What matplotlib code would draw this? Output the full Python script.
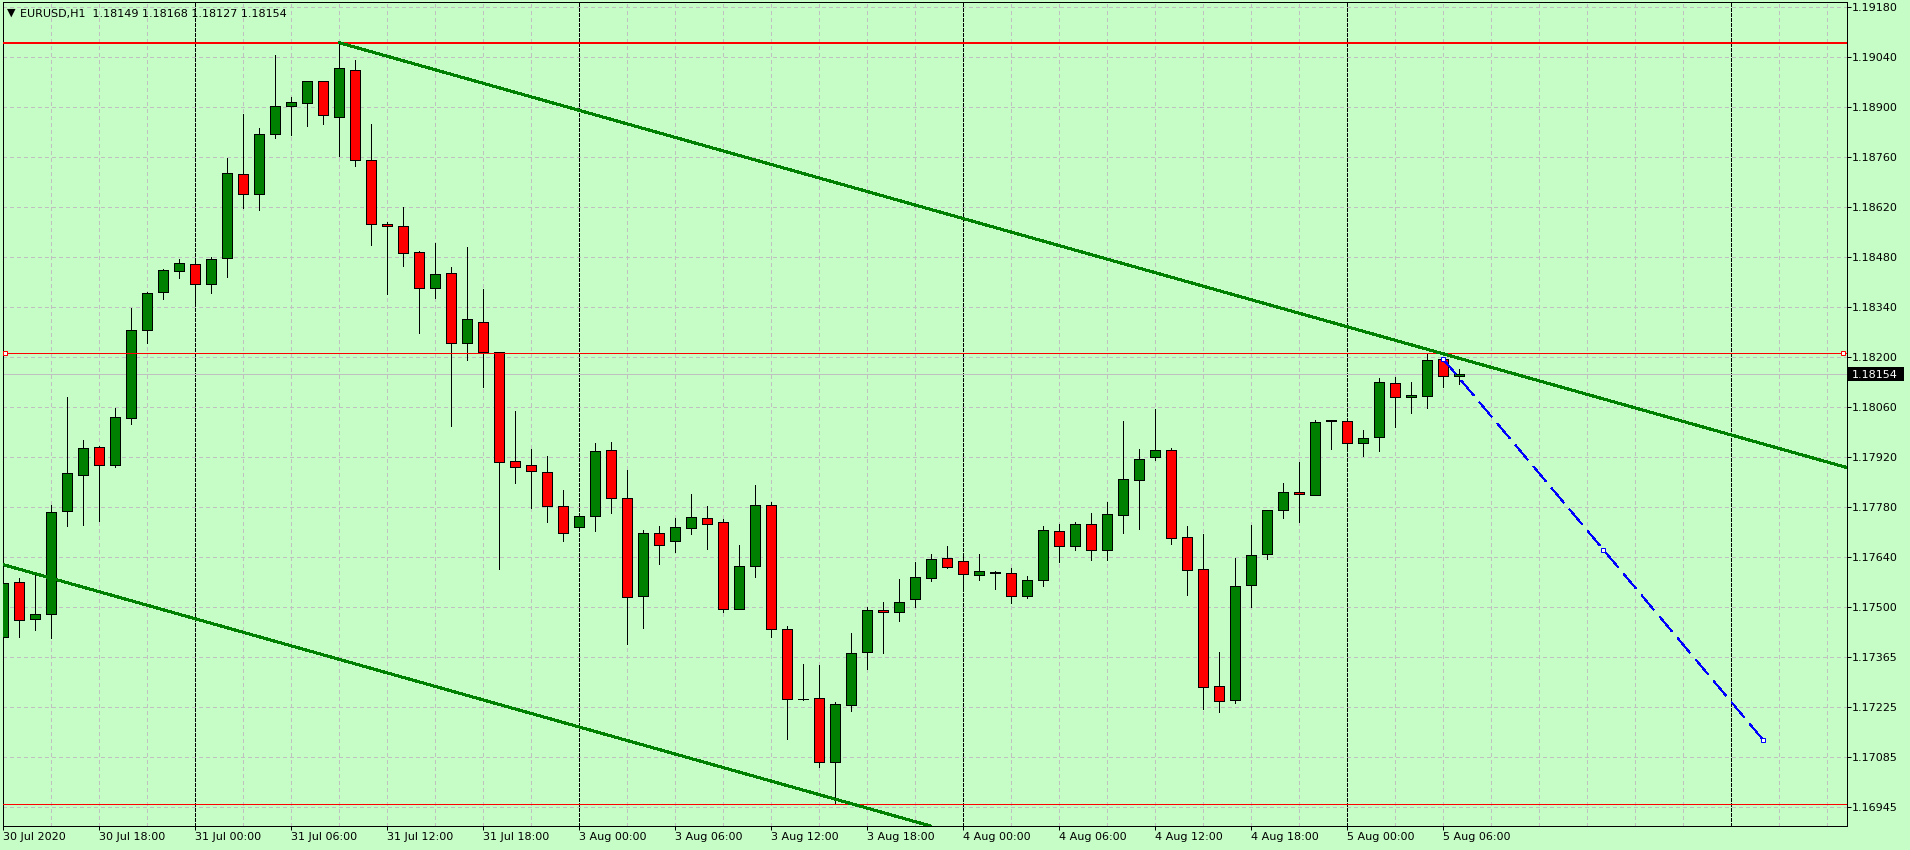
import numpy as np
import pandas as pd
import matplotlib
matplotlib.use('Agg')
import matplotlib.pyplot as plt
import matplotlib.transforms as mtransforms
from matplotlib.patches import Rectangle

# EURUSD H1 candles, 30 Jul 2020 12:00 .. 5 Aug 2020 07:00
symbol = "EURUSD,H1"
opens = [1.17419, 1.17573, 1.17469, 1.17483, 1.17771, 1.17872, 1.17950, 1.17900, 1.18031, 1.18277,
         1.18383, 1.18442, 1.18461, 1.18405, 1.18478, 1.18713, 1.18657, 1.18826, 1.18903, 1.18911,
         1.18972, 1.18872, 1.19003, 1.18752, 1.18573, 1.18567, 1.18495, 1.18394, 1.18436, 1.18241,
         1.18299, 1.18215, 1.17911, 1.17900, 1.17880, 1.17785, 1.17728, 1.17757, 1.17942, 1.17808,
         1.17534, 1.17710, 1.17687, 1.17724, 1.17752, 1.17740, 1.17499, 1.17618, 1.17788, 1.17442,
         1.17248, 1.17249, 1.17072, 1.17229, 1.17379, 1.17495, 1.17489, 1.17525, 1.17584, 1.17640,
         1.17632, 1.17592, 1.17601, 1.17598, 1.17534, 1.17578, 1.17715, 1.17673, 1.17735, 1.17662,
         1.17760, 1.17858, 1.17922, 1.17942, 1.17699, 1.17609, 1.17282, 1.17243, 1.17564, 1.17651,
         1.17774, 1.17824, 1.17816, 1.18024, 1.18023, 1.17961, 1.17978, 1.18129, 1.18090, 1.18092,
         1.18196, 1.18149]
highs = [1.17615, 1.17584, 1.17595, 1.17789, 1.18091, 1.17970, 1.17954, 1.18059, 1.18340, 1.18385,
         1.18447, 1.18476, 1.18468, 1.18481, 1.18759, 1.18880, 1.18842, 1.19046, 1.18928, 1.18973,
         1.18974, 1.19080, 1.19031, 1.18852, 1.18579, 1.18620, 1.18498, 1.18522, 1.18453, 1.18509,
         1.18391, 1.18216, 1.18051, 1.17945, 1.17926, 1.17831, 1.17764, 1.17961, 1.17964, 1.17886,
         1.17718, 1.17729, 1.17752, 1.17819, 1.17785, 1.17749, 1.17676, 1.17844, 1.17796, 1.17450,
         1.17345, 1.17342, 1.17239, 1.17431, 1.17503, 1.17518, 1.17582, 1.17630, 1.17652, 1.17675,
         1.17652, 1.17652, 1.17605, 1.17612, 1.17590, 1.17730, 1.17735, 1.17741, 1.17766, 1.17797,
         1.18024, 1.17945, 1.18057, 1.17947, 1.17729, 1.17707, 1.17377, 1.17640, 1.17732, 1.17774,
         1.17849, 1.17908, 1.18025, 1.18026, 1.18026, 1.17997, 1.18143, 1.18146, 1.18132, 1.18210,
         1.18197, 1.18168]
lows = [1.17305, 1.17421, 1.17440, 1.17418, 1.17731, 1.17734, 1.17745, 1.17896, 1.18016, 1.18242,
        1.18365, 1.18424, 1.18348, 1.18382, 1.18427, 1.18617, 1.18614, 1.18815, 1.18821, 1.18848,
        1.18854, 1.18765, 1.18737, 1.18516, 1.18379, 1.18457, 1.18270, 1.18366, 1.18010, 1.18195,
        1.18117, 1.17611, 1.17851, 1.17779, 1.17742, 1.17689, 1.17716, 1.17717, 1.17767, 1.17400,
        1.17446, 1.17625, 1.17658, 1.17709, 1.17667, 1.17489, 1.17497, 1.17588, 1.17421, 1.17135,
        1.17245, 1.17058, 1.16955, 1.17213, 1.17331, 1.17376, 1.17466, 1.17504, 1.17577, 1.17614,
        1.17561, 1.17579, 1.17555, 1.17515, 1.17530, 1.17563, 1.17630, 1.17664, 1.17636, 1.17636,
        1.17711, 1.17723, 1.17915, 1.17679, 1.17538, 1.17218, 1.17210, 1.17235, 1.17503, 1.17639,
        1.17753, 1.17742, 1.17816, 1.17946, 1.17951, 1.17925, 1.17939, 1.18006, 1.18045, 1.18059,
        1.18118, 1.18127]
closes = [1.17570, 1.17467, 1.17483, 1.17768, 1.17877, 1.17947, 1.17900, 1.18034, 1.18277, 1.18380,
          1.18444, 1.18464, 1.18405, 1.18475, 1.18715, 1.18657, 1.18824, 1.18903, 1.18914, 1.18972,
          1.18877, 1.19009, 1.18752, 1.18573, 1.18567, 1.18492, 1.18394, 1.18433, 1.18241, 1.18308,
          1.18215, 1.17908, 1.17894, 1.17883, 1.17785, 1.17710, 1.17757, 1.17939, 1.17808, 1.17531,
          1.17710, 1.17676, 1.17726, 1.17754, 1.17735, 1.17497, 1.17618, 1.17788, 1.17443, 1.17246,
          1.17246, 1.17070, 1.17232, 1.17374, 1.17495, 1.17489, 1.17517, 1.17587, 1.17637, 1.17615,
          1.17595, 1.17603, 1.17599, 1.17534, 1.17578, 1.17718, 1.17673, 1.17735, 1.17662, 1.17763,
          1.17861, 1.17916, 1.17942, 1.17696, 1.17606, 1.17280, 1.17240, 1.17562, 1.17648, 1.17774,
          1.17824, 1.17819, 1.18020, 1.18025, 1.17961, 1.17975, 1.18132, 1.18090, 1.18095, 1.18193,
          1.18148, 1.18154]

ytick_labels = ['1.19180', '1.19040', '1.18900', '1.18760', '1.18620', '1.18480', '1.18340',
                '1.18200', '1.18060', '1.17920', '1.17780', '1.17640', '1.17500', '1.17365',
                '1.17225', '1.17085', '1.16945']

# drawn objects (time, price)
hlines_thick = [1.19080]
hline_selected = 1.18213
hline_low = 1.16953
channel_top = [("2020-07-31 09:00", 1.19080), ("2020-08-05 06:00", 1.18211)]
channel_bottom = [("2020-07-30 12:00", 1.17622), ("2020-08-03 16:00", 1.16967)]
blue_line = [("2020-08-05 06:00", 1.18196), ("2020-08-06 02:00", 1.17132)]

# time axis (weekend skipped), extends into the future area on the right
axis_times = pd.date_range("2020-07-30 12:00", "2020-07-31 23:00", freq="h").append(
    pd.date_range("2020-08-03 00:00", periods=140, freq="h"))
n = len(opens)
idx = np.arange(n)


def tpos(t):
    return axis_times.get_loc(pd.Timestamp(t))


bg = '#c6fdc6'
px = 0.72  # one pixel in points at dpi 100
W, H = 1910, 850
fig = plt.figure(figsize=(W / 100, H / 100), dpi=100, facecolor=bg)
ax = fig.add_axes([2.7 / W, 24 / H, 1844 / W, 823.7 / H], facecolor=bg)
x_lo, x_hi = -0.0375, 115.2125
y_lo, y_hi = 1.16892, 1.19193
ax.set_xlim(x_lo, x_hi)
ax.set_ylim(y_lo, y_hi)
price_per_px = (y_hi - y_lo) / 823.7

# grid
ytick_pos = np.linspace(float(ytick_labels[0]), float(ytick_labels[-1]), len(ytick_labels))
for y in ytick_pos:
    ax.axhline(y, color='#c0c0c0', lw=px, ls=(0, (4, 3)), zorder=0.5, antialiased=False)
seps = [i for i in range(len(axis_times)) if i <= x_hi and axis_times[i].hour == 0]
for i in range(0, int(x_hi) + 1, 3):
    if i not in seps:
        ax.axvline(i, color='#c0c0c0', lw=px, ls=(0, (4, 3)), zorder=0.5, antialiased=False)
for i in seps:
    ax.axvline(i, color='black', lw=px, ls=(0, (3, 2)), zorder=0.6, antialiased=False)

# bid line
bid = closes[-1]
ax.axhline(bid, color='#c0c0c0', lw=px, zorder=0.8, antialiased=False)

# candles
o = np.array(opens); c = np.array(closes)
colors = np.where(c >= o, '#008000', '#ff0000')
ax.vlines(idx, lows, highs, color='black', lw=px, zorder=2, antialiased=False)
ax.bar(idx, np.abs(c - o), bottom=np.minimum(o, c), width=0.62, color=colors,
       edgecolor='black', linewidth=px, zorder=3, antialiased=False)

# horizontal lines
for y in hlines_thick:
    ax.axhline(y, color='#ff0000', lw=2 * px, zorder=4, antialiased=False)
ax.axhline(hline_low, color='#ff0000', lw=px, zorder=4, antialiased=False)
ax.axhline(hline_selected, color='#ff0000', lw=px, zorder=4, antialiased=False)
ax.plot([x_lo + 0.15, x_hi - 0.22], [hline_selected, hline_selected], ls='none', marker='s',
        ms=3.2, mfc='white', mec='#ff0000', mew=px, zorder=5, clip_on=False)

# channel
(t1, p1), (t2, p2) = channel_top
x1, x2 = tpos(t1), tpos(t2)
slope = (p2 - p1) / (x2 - x1)
ax.plot([x1, x_hi], [p1, p1 + slope * (x_hi - x1)], color='#008000', lw=2 * px, zorder=4,
        antialiased=False)
(t1, p1), (t2, p2) = channel_bottom
ax.axline((tpos(t1), p1), (tpos(t2), p2), color='#008000', lw=2 * px, zorder=4, antialiased=False)

# blue dashed line with its anchor squares
(t1, p1), (t2, p2) = blue_line
bx = [tpos(t1), (tpos(t1) + tpos(t2)) / 2, tpos(t2)]
by = [p1, (p1 + p2) / 2, p2]
ax.plot(bx, by, color='#0000ff', lw=px, ls=(0, (20, 9)), zorder=4, antialiased=False)
ax.plot(bx, by, ls='none', marker='s', ms=3.2, mfc='white', mec='#0000ff', mew=px, zorder=5)

# axes styling
for s in ax.spines.values():
    s.set_color('black')
    s.set_linewidth(px)
ax.yaxis.tick_right()
ax.set_yticks(ytick_pos)
ax.set_yticklabels(ytick_labels)
ax.tick_params(axis='y', direction='out', length=2.9, width=px, pad=1, labelsize=8, colors='black')

lab_idx, lab_txt = [], []
for i in range(n):
    t = axis_times[i]
    if i == 0:
        lab_idx.append(i); lab_txt.append(f"{t.day} {t:%b %Y}")
    elif t.hour % 6 == 0:
        lab_idx.append(i); lab_txt.append(f"{t.day} {t:%b %H:%M}")
ax.set_xticks(lab_idx)
ax.set_xticklabels(lab_txt, ha='left')
ax.tick_params(axis='x', direction='out', length=2.9, width=px, pad=1.5, labelsize=8, colors='black')

# current price box on the price scale
trans = mtransforms.blended_transform_factory(ax.transAxes, ax.transData)
ax.add_patch(Rectangle((1 + 1 / 1844, bid - 7 * price_per_px), 56.3 / 1844, 14 * price_per_px,
                       transform=trans, facecolor='black', edgecolor='none', clip_on=False, zorder=6))
ax.text(1 + 5.4 / 1844, bid, f"{bid:.5f}", transform=trans, ha='left', va='center_baseline',
        color='white', fontsize=8, zorder=7, clip_on=False)

# header
fig.text(6.5 / W, 1 - 15.5 / H, '\u25bc', fontsize=8, va='baseline', ha='left', color='black')
fig.text(20.2 / W, 1 - 17 / H,
         f"{symbol}  {opens[-1]:.5f} {highs[-1]:.5f} {lows[-1]:.5f} {closes[-1]:.5f}",
         fontsize=8, va='baseline', ha='left', color='black')

fig.savefig('out.png', dpi=100, facecolor=bg)
